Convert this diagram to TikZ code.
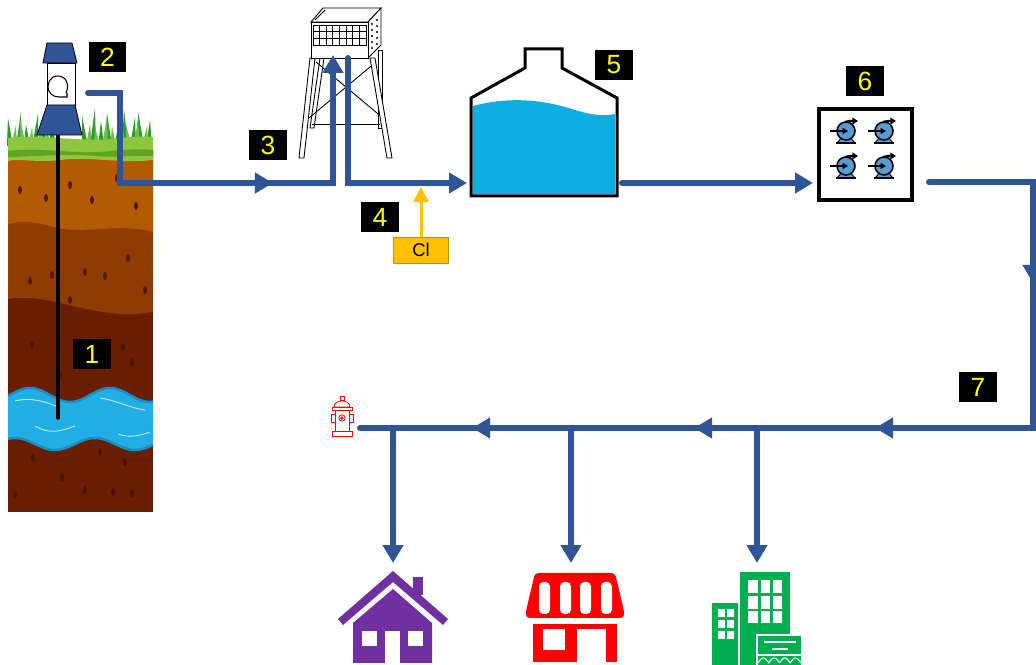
\documentclass[tikz,border=0pt]{standalone}
\usepackage{fontspec}
\setmainfont{Liberation Sans}
\usetikzlibrary{arrows.meta,decorations.markings}

\definecolor{pipe}{HTML}{2F5597}
\definecolor{soilA}{HTML}{B35A05}
\definecolor{soilB}{HTML}{8E3C02}
\definecolor{soilC}{HTML}{6B1D00}
\definecolor{speck}{HTML}{561600}
\definecolor{grassL}{HTML}{8DC63F}
\definecolor{grassD}{HTML}{62A31F}
\definecolor{bladeD}{HTML}{2E9A2E}
\definecolor{bladeL}{HTML}{6CC24A}
\definecolor{gwater}{HTML}{21AEE5}
\definecolor{gwaterD}{HTML}{1A8CC4}
\definecolor{tankwater}{HTML}{0EADE3}
\definecolor{chlor}{HTML}{FFC000}
\definecolor{pumpblue}{HTML}{5B9BD5}
\definecolor{housec}{HTML}{7030A0}
\definecolor{officec}{HTML}{00B050}
\definecolor{tagyellow}{HTML}{FFFF00}

\tikzset{
  tag/.style={fill=black, text=tagyellow, minimum width=0.76cm, minimum height=0.6cm,
              inner sep=0pt, font=\fontsize{15}{15}\selectfont},
  pipeline/.style={draw=pipe, line width=0.12cm},
  flowtip/.style={-{Triangle[length=0.36cm,width=0.4cm]}},
  midarrow/.style={postaction={decorate,decoration={markings,
      mark=at position #1 with {\arrow{Triangle[length=0.36cm,width=0.4cm]}}}}},
  outline/.style={draw=black, line width=0.45pt},
  pumpunit/.pic={
    \filldraw[fill=pumpblue, draw=black, line width=0.5pt] (-4,6) -- (4,6) -- (9,12) -- (-9,12) -- cycle;
    \draw[line width=1pt] (-10,12) -- (10,12);
    \filldraw[fill=pumpblue, draw=black, line width=0.9pt] (0,0) circle (9);
    \draw[line width=0.8pt, -{Triangle[length=3pt,width=3.4pt]}] (-16,0) -- (2,0);
    \draw[line width=1.3pt, -{Triangle[length=3.2pt,width=3.8pt]}] (-1,-9) .. controls (4,-10) .. (12,-10);
  }
}

\begin{document}
\begin{tikzpicture}[x=0.02cm, y=-0.02cm]
\useasboundingbox (0,0) rectangle (1036,665);

% ---------------- ground profile ----------------
\foreach \x/\t/\l in {10/118/-2, 19/112/2, 27/124/-1, 35/114/3, 44/120/-2, 52/110/1, 85/116/-3,
    93/108/2, 101/121/0, 109/113/-2, 117/119/3, 125/109/-1, 133/117/2, 141/111/-3, 149/120/1}
  \fill[bladeD] (\x-3,146) -- (\x+\l,\t) -- (\x+3,146) -- cycle;
\foreach \x/\t/\l in {14/125/2, 23/119/-3, 31/127/1, 40/122/2, 48/126/-2, 89/124/1, 97/127/-2,
    105/116/2, 113/126/-1, 121/120/2, 129/125/-3, 137/118/1, 145/126/2}
  \fill[bladeL] (\x-3,146) -- (\x+\l,\t) -- (\x+3,146) -- cycle;

\fill[soilC] (8,150) rectangle (153,512);
\fill[soilB] (8,150) -- (153,150) -- (153,312) .. controls (120,318) and (90,310) .. (60,303)
  .. controls (35,297) and (20,297) .. (8,299) -- cycle;
\fill[soilA] (8,150) -- (153,150) -- (153,232) .. controls (120,222) and (80,236) .. (50,226)
  .. controls (30,220) and (15,222) .. (8,224) -- cycle;
\fill[grassL] (8,138) .. controls (40,134) and (80,142) .. (110,139) .. controls (130,137) and (145,136) .. (153,137)
  -- (153,160) .. controls (120,164) and (90,156) .. (60,160) .. controls (35,163) and (20,158) .. (8,161) -- cycle;
\fill[grassD] (8,151) .. controls (40,147) and (80,155) .. (110,151) .. controls (130,149) and (145,149) .. (153,150)
  -- (153,156) .. controls (130,155) and (115,158) .. (95,156) .. controls (60,153) and (35,157) .. (8,157) -- cycle;

% specks in the soil
\foreach \x/\y in {20/190, 46/198, 117/178, 136/206, 70/185, 92/200,
                   30/281, 52/275, 85/272, 105/276, 128/258, 145/290, 70/300}
  \fill[speck] (\x,\y) ellipse [x radius=2, y radius=4];
\foreach \x/\y in {32/345, 123/347, 132/362, 60/375, 110/400, 33/458, 100/452, 62/478,
                   85/490, 113/492, 15/495, 132/494, 125/462, 140/418}
  \fill[speck!85!black] (\x,\y) ellipse [x radius=2, y radius=4];

% aquifer
\fill[gwater] plot[domain=8:153,samples=60] (\x,{395-7*cos(4.5*(\x-30))})
  -- plot[domain=153:8,samples=60] (\x,{444+6*cos(4.5*(\x-55))}) -- cycle;
\draw[gwaterD, line width=0.05cm] plot[domain=8:153,samples=60] (\x,{395-7*cos(4.5*(\x-30))});
\draw[gwaterD, line width=0.05cm] plot[domain=8:153,samples=60] (\x,{444+6*cos(4.5*(\x-55))});
\begin{scope}[white, line width=0.5pt, opacity=0.75]
  \draw (15,401) .. controls (30,397) and (45,401) .. (60,408);
  \draw (100,398) .. controls (115,400) and (130,408) .. (145,410);
  \draw (35,426) .. controls (48,434) and (60,432) .. (75,426);
  \draw (118,434) .. controls (128,438) and (140,436) .. (150,432);
\end{scope}

% well casing and pump head
\draw[line width=0.07cm, line cap=round] (58,135) -- (58,418);
\filldraw[fill=pipe, outline] (47,43) -- (72,43) -- (77,63) -- (43,63) -- cycle;
\filldraw[fill=white, outline] (47,63) rectangle (75,105);
\filldraw[fill=pipe, outline] (47,105) -- (75,105) -- (82,135) -- (37,135) -- cycle;
\draw[line width=0.6pt] (66,93) .. controls (70,85) and (66,76) .. (58,76) .. controls (50,76) and (48,83) .. (48,87)
  .. controls (48,93) and (53,97) .. (59,97) -- (67,97) -- (67,93);

% ---------------- elevated tank ----------------
\begin{scope}[outline, line width=0.5pt]
  \filldraw[fill=white] (320,58) -- (324,58) -- (314,128) -- (310,128) -- cycle;
  \filldraw[fill=white] (378,50) -- (382,50) -- (382,128) -- (378,128) -- cycle;
  \draw (316,62) -- (383,118);
  \draw (376,62) -- (309,118);
  \draw (312,124) -- (380,124);
  \filldraw[fill=white] (310,58) -- (315,58) -- (304,158) -- (299,158) -- cycle;
  \filldraw[fill=white] (370,58) -- (375,58) -- (392,158) -- (387,158) -- cycle;
  \filldraw[fill=white] (311,22) -- (323,8) -- (381,8) -- (368,22) -- cycle;
  \draw (315,20) -- (325,10);
  \filldraw[fill=white] (368,22) -- (381,8) -- (381,45) -- (368,58) -- cycle;
  \filldraw[fill=white] (311,22) rectangle (368,58);
  \draw (313,25) rectangle (366,45);
  \foreach \i in {1,...,7} \draw (313+\i*6.625,25) -- (313+\i*6.625,45);
  \draw (313,31.7) -- (366,31.7);
  \draw (313,38.3) -- (366,38.3);
  \foreach \j in {0,...,4} \foreach \k in {0,1}
    \fill (372+\k*5,24+\j*6-\k*4) circle (1.1);
\end{scope}

% ---------------- ground storage tank ----------------
\fill[tankwater] (473,106) .. controls (510,96) and (545,100) .. (575,110)
  .. controls (595,116) and (605,116) .. (615,114) -- (615,194) -- (473,194) -- cycle;
\draw[line width=0.06cm] (471,196) -- (471,98) -- (525,68) -- (525,49) -- (562,49) -- (562,68)
  -- (617,98) -- (617,196) -- cycle;

% ---------------- pump station ----------------
\draw[line width=0.08cm] (819,109) rectangle (912,200);
\pic at (846,131) {pumpunit};
\pic at (884,131) {pumpunit};
\pic at (846,166) {pumpunit};
\pic at (884,166) {pumpunit};

% ---------------- fire hydrant ----------------
\begin{scope}[draw=red, fill=white, line width=0.45pt]
  \filldraw (340,396) rectangle (344,400);
  \filldraw (334,407) .. controls (334,399) and (350,399) .. (350,407) -- cycle;
  \filldraw (332,407) rectangle (352,410);
  \filldraw (331,414) rectangle (353,422);
  \filldraw (335,410) rectangle (349,431);
  \draw (342,418) circle (3.2);
  \draw (342,418) circle (1.3);
  \filldraw (332,431) rectangle (352,436);
\end{scope}

% ---------------- consumers ----------------
% house
\fill[housec] (338,619) -- (393,571) -- (448,619) -- (443,625) -- (393,582) -- (343,625) -- cycle;
\fill[housec] (413,577) rectangle (423,595);
\fill[housec] (393,589) -- (432,623) -- (432,663) -- (353,663) -- (353,623) -- cycle;
\fill[white] (362,631) rectangle (377,646);
\fill[white] (408,631) rectangle (423,646);
\fill[white] (385,631) rectangle (400,664);
% shop
\fill[red, rounded corners=2pt] (535,573) -- (615,573) -- (624,611) -- (624,618) -- (526,618) -- (526,611) -- cycle;
\foreach \a/\b in {539/550, 560/571, 580/591, 601/612}
  \fill[white, rounded corners=2.5pt] (\a,582) rectangle (\b,614);
\fill[red] (533,624) rectangle (617,662);
\fill[white] (543,629) rectangle (565,650);
\fill[white] (577,629) rectangle (606,664);
% office block
\fill[officec] (712,603) rectangle (738,665);
\fill[officec] (740,572) rectangle (790,665);
\foreach \cx/\cw in {748/10, 761/9, 773/9} \foreach \ry/\rh in {580/13, 596/13, 611/12}
  \fill[white] (\cx,\ry) rectangle (\cx+\cw,\ry+\rh);
\foreach \cx in {718, 727} \foreach \ry in {609, 620, 631}
  \fill[white] (\cx,\ry) rectangle (\cx+7,\ry+8);
\filldraw[fill=officec, draw=white, line width=0.6pt] (757,635) rectangle (802,666);
\draw[white, line width=0.05cm] (764,642) -- (796,642);
\draw[white, line width=0.05cm] (772,649) -- (788,649);
\draw[white, line width=0.6pt] (757,655) -- (802,655);
\draw[white, line width=0.6pt] plot[domain=758:801,samples=90] (\x,{663-5*abs(sin(180*(\x-758)/10.75))});

% ---------------- chlorine dosing ----------------
\node[fill=chlor, draw=chlor!75!black, line width=0.4pt, minimum width=1.1cm, minimum height=0.52cm,
      inner sep=0pt, font=\fontsize{10.5}{10.5}\selectfont] (cl) at (421,250) {Cl};
\coordinate (dose) at (421,187);
\draw[chlor, line width=0.06cm, -{Triangle[length=0.3cm,width=0.3cm]}] (cl.north) -- (dose);

% ---------------- pipe route ----------------
\coordinate (wellout) at (88,93);
\coordinate (bendA) at (120,93);
\coordinate (bendB) at (120,183);
\coordinate (riserfoot) at (333,183);
\coordinate (towerin) at (333,55);
\coordinate (towerout) at (348,58);
\coordinate (downfoot) at (348,183);
\coordinate (tankin) at (467,183);
\coordinate (tankout) at (622,183);
\coordinate (pumpin) at (813,183);
\coordinate (pumpout) at (929,182);
\coordinate (edgetop) at (1033,182);
\coordinate (edgebot) at (1033,428);
\coordinate (mainend) at (360,428);

\draw[pipeline, line cap=round, flowtip, midarrow=5.5cm] (wellout) -- (bendA) -- (bendB) -- (riserfoot) -- (towerin);
\draw[pipeline, line cap=round, flowtip] (towerout) -- (downfoot) -- (tankin);
\draw[pipeline, line cap=round, flowtip] (tankout) -- (pumpin);
\draw[pipeline, line cap=round, midarrow=4.1cm, midarrow=10.16cm, midarrow=13.78cm, midarrow=18.22cm]
  (pumpout) -- (edgetop) -- (edgebot) -- (mainend);

\foreach \bx/\nm in {393/house, 571/shop, 757/office} {
  \coordinate (tap-\nm) at (\bx,428);
  \coordinate (feed-\nm) at (\bx,563);
  \draw[pipeline, flowtip] (tap-\nm) -- (feed-\nm);
}

% ---------------- step tags ----------------
\node[tag] (t1) at (92,354) {1};
\node[tag] (t2) at (107.5,57.5) {2};
\node[tag] (t3) at (268,145.5) {3};
\node[tag] (t4) at (380,217) {4};
\node[tag] (t5) at (614,65) {5};
\node[tag] (t6) at (865,81.5) {6};
\node[tag] (t7) at (978,387.5) {7};
\end{tikzpicture}
\end{document}
